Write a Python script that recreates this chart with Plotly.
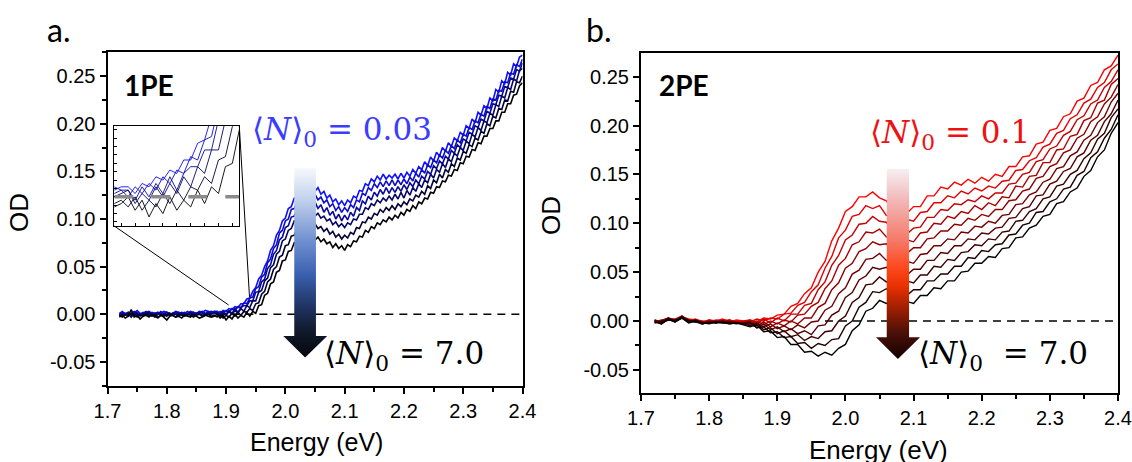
import plotly.graph_objects as go

W, H = 1132, 462

# ---------------- data ----------------
# photon-energy grids (eV)
E_A = [round(1.72 + 0.005 * i, 3) for i in range(137)]
E_B = [round(1.72 + 0.01 * i, 2) for i in range(69)]

# Panel a (1PE): OD x 1000, from <N>0 = 0.03 (blue) down to <N>0 = 7.0 (black)
A1 = [1,3,0,2,-1,2,4,1,0,2,3,1,-1,2,1,3,2,0,1,3,2,1,2,0,3,2,1,3,2,4,3,2,3,
      3,1,4,3,6,5,8,7,11,11,16,17,24,28,37,41,50,56,67,72,83,88,98,101,111,113,122,123,129,127,
      134,130,135,129,133,126,129,122,125,118,121,115,119,114,120,117,124,122,130,129,
      137,135,142,139,145,141,147,142,146,143,147,142,148,143,149,145,152,148,155,152,
      160,156,165,161,170,166,175,171,180,176,185,182,191,188,198,195,205,201,212,209,
      219,216,227,224,236,233,245,242,254,251,263,260,270,272]
A2 = [0,2,1,-1,1,3,1,0,2,1,-1,2,1,0,3,1,2,-1,1,2,0,2,1,3,1,2,0,2,3,1,2,3,2,
      0,3,1,4,2,6,4,8,7,12,11,17,18,27,29,39,42,54,58,69,73,85,88,98,100,110,111,119,118,124,
      121,127,122,126,120,123,117,120,113,116,109,113,107,112,108,115,112,120,118,127,
      125,133,130,137,133,139,134,140,135,141,135,141,136,142,137,144,140,148,144,152,
      148,157,154,162,159,167,164,172,169,177,174,183,180,189,187,196,194,203,201,210,
      208,218,216,226,225,235,234,244,243,253,252,262,260,268]
A3 = [-1,1,0,2,-2,0,2,-1,1,3,0,-1,1,2,-1,0,2,1,-1,1,2,0,-1,1,2,0,1,2,1,0,2,1,2,
      2,-1,3,0,4,1,6,2,7,9,9,14,14,23,24,34,37,48,52,63,67,78,81,91,93,102,103,111,109,115,
      112,119,113,118,111,115,107,112,104,108,100,105,98,104,99,107,103,112,109,119,
      116,124,120,128,124,131,126,133,127,133,128,134,129,136,131,138,134,141,137,145,
      142,150,147,156,153,161,158,166,163,172,169,178,175,184,182,191,189,198,196,205,
      203,213,211,221,220,230,229,239,238,248,247,257,255,264]
A4 = [-2,0,-1,1,-3,1,0,-2,0,-1,2,-1,-3,0,1,-2,0,-1,1,0,-2,1,0,-1,1,-1,0,1,-1,0,1,0,1,
      2,-2,1,-1,3,0,4,1,6,3,9,7,14,14,23,25,35,38,49,52,63,66,77,79,88,90,98,98,104,102,
      108,104,108,103,106,101,103,98,100,94,97,92,95,91,96,94,100,99,105,105,
      112,110,116,114,120,117,122,119,124,120,126,121,128,122,130,125,133,129,137,133,
      141,138,147,143,152,149,158,154,163,160,169,166,175,172,182,179,189,186,196,193,
      203,201,211,209,220,218,229,227,238,236,247,245,256,258]
A5 = [-1,-3,0,-2,1,-1,-3,0,-2,1,-1,-2,0,-3,-1,0,-2,1,-1,-3,0,-1,-2,0,-1,-3,-1,0,-2,-1,0,-2,-1,
      -3,0,-4,-1,-3,1,-2,2,-1,3,2,6,4,11,12,21,24,34,37,47,50,60,62,72,73,82,83,90,88,94,
      91,96,92,95,90,92,87,90,84,87,81,84,79,83,80,86,84,91,90,97,
      96,102,100,106,104,110,107,112,109,114,110,116,113,118,115,121,119,125,123,129,
      126,135,132,141,138,147,143,152,149,158,155,164,162,171,169,178,176,185,183,192,
      190,200,198,208,206,216,215,225,224,234,233,244,243,250]
A6 = [-3,-1,-4,-2,5,-3,-1,-5,-2,-1,-3,0,-2,-4,-1,-3,-6,-2,-1,-3,-2,-4,-1,-2,-3,0,-2,-4,-3,-1,-2,-3,-2,
      0,-4,-1,-6,-2,-5,0,-4,-1,-3,2,-2,3,1,9,10,20,22,32,34,44,46,56,57,66,67,75,74,80,78,
      83,79,83,78,81,76,79,74,76,70,74,69,72,67,73,71,77,76,82,81,
      88,86,92,90,96,94,99,97,102,99,104,101,107,104,110,108,114,111,118,116,
      122,121,128,127,134,133,140,139,146,145,152,151,159,158,166,165,173,172,180,179,
      187,187,195,195,203,203,212,212,221,221,230,231,240,243]
A_SERIES = [A1, A2, A3, A4, A5, A6]

# Panel b (2PE): OD x 1000, from <N>0 = 0.1 (red) down to <N>0 = 7.0 (black)
B1 = [0,-2,3,1,5,0,2,-1,1,0,2,-1,1,0, 1,-1,3,2,6,7,15,18,28,34, 50,61,82,95,112,117,127,127,132,126,
      123,113,116,110,117,117,128,128,137,135, 142,139,145,141,147,143,150,148,158,158,
      168,169,181,183,195,197,209,212,225,228, 241,244,257,261,272]
B2 = [-1,1,2,-1,4,2,1,0,-1,1,0,1,-1,0, -1,2,0,3,2,7,8,16,19,30, 37,54,66,85,93,107,109,118,115,118,
      108,106,101,104,102,111,112,121,121,128, 126,133,130,136,133,138,136,143,144,154,
      155,164,167,178,181,192,195,207,211,223, 227,239,244,257,263]
B3 = [1,-1,2,0,3,1,0,-2,1,-1,1,0,-1,-1, 1,-3,2,-2,3,0,7,7,16,18, 32,40,57,67,83,88,99,100,107,102,
      101,92,94,89,95,96,106,106,114,113, 120,119,124,122,128,125,131,131,140,141,
      150,152,163,165,176,179,190,194,206,210, 222,226,239,245,257]
B4 = [0,-2,1,2,5,0,1,-1,-1,0,-1,1,-2,-1, -3,0,-4,0,-3,1,-1,6,7,15, 19,33,41,57,64,78,81,91,90,94,
      86,85,80,83,81,90,91,100,99,107, 105,112,110,118,114,121,118,127,126,138,
      137,148,149,162,162,175,176,189,191,205, 208,223,226,242,248]
B5 = [-2,0,3,1,4,-1,1,-2,0,-1,0,-2,-1,-2, 0,-5,-1,-6,-2,-5,0,-3,3,3, 14,18,32,39,54,59,71,74,81,78,
      79,71,73,69,75,75,84,85,92,92, 99,98,105,103,109,107,114,114,123,124,
      133,135,146,148,158,161,172,175,187,191, 204,209,222,229,242]
B6 = [1,-2,2,0,5,1,-1,-1,-2,0,-1,-1,-2,-3, -4,-2,-6,-3,-8,-5,-9,-4,-7,-1, 0,11,15,28,34,48,52,63,64,69,
      62,63,58,61,59,68,69,77,77,84, 83,91,90,97,96,102,100,108,109,119,
      120,129,132,142,145,156,158,169,173,185, 190,203,209,224,233]
B7 = [-1,0,3,-1,4,0,0,-3,-1,-2,0,-2,-3,-2, -1,-7,-3,-9,-6,-11,-8,-13,-10,-14, -5,-4,6,10,24,29,42,46,55,53,
      55,49,51,47,53,53,62,62,70,69, 77,77,84,83,90,89,95,96,105,106,
      115,117,128,129,140,143,153,156,168,172, 185,190,204,212,226]
B8 = [0,-3,2,1,3,-1,1,-2,-2,-1,-2,-1,-2,-3, -5,-2,-9,-7,-13,-10,-16,-14,-20,-16, -18,-11,-10,0,5,19,24,37,38,45,
      40,42,37,41,39,47,47,56,55,63, 62,70,71,78,77,84,83,91,92,102,
      103,112,115,125,127,138,140,150,154,166, 172,186,192,208,217]
B9 = [-2,-1,1,0,4,0,-1,-3,-1,-2,-1,-3,-2,-3, -2,-7,-6,-12,-11,-17,-16,-23,-22,-28, -23,-25,-19,-18,-5,0,14,19,30,29,
      33,28,30,26,32,32,41,41,48,48, 56,56,65,64,72,71,78,79,88,89,
      98,100,111,112,122,125,135,137,149,153, 167,173,187,196,211]
B10 = [-1,-3,2,-1,3,-2,0,-2,-3,-1,-2,-3,-2,-4, -6,-4,-11,-10,-17,-16,-24,-24,-32,-31, -36,-32,-35,-28,-24,-10,-4,10,13,21,
       18,21,16,20,18,26,26,34,33,41, 41,50,51,59,59,66,65,74,75,85,
       86,95,98,107,109,120,122,132,136,148, 154,168,175,192,203]
B_SERIES = [B1, B2, B3, B4, B5, B6, B7, B8, B9, B10]

X_TICKS = [1.7, 1.8, 1.9, 2.0, 2.1, 2.2, 2.3, 2.4]
X_TICK_TEXT = ["1.7", "1.8", "1.9", "2.0", "2.1", "2.2", "2.3", "2.4"]
Y_TICKS = [-0.05, 0.0, 0.05, 0.10, 0.15, 0.20, 0.25]
Y_TICK_TEXT = ["-0.05", "0.00", "0.05", "0.10", "0.15", "0.20", "0.25"]

LABEL_A_TOP = "⟨<i>N</i>⟩<sub>0</sub> = 0.03"
LABEL_A_BOT = "⟨<i>N</i>⟩<sub>0</sub> = 7.0"
LABEL_B_TOP = "⟨<i>N</i>⟩<sub>0</sub> = 0.1"
LABEL_B_BOT = "⟨<i>N</i>⟩<sub>0</sub> \u00a0= 7.0"

# ---------------- styling ----------------
TICK_FONT = "Liberation Sans"
MATH_FONT = "DejaVu Serif"
LBL_FONT = "Lato"


def px(x):
    return x / W


def py(y):
    return 1 - y / H


def mix(c0, c1, t):
    return "rgb(%d,%d,%d)" % tuple(round(a + (b - a) * t) for a, b in zip(c0, c1))


fig = go.Figure()


def add_spectra(E, series, c_top, c_bot, xa, ya, width):
    n = len(series)
    for i, s in enumerate(series):
        fig.add_trace(go.Scatter(
            x=E, y=[v / 1000 for v in s], mode="lines",
            line=dict(color=mix(c_top, c_bot, i / (n - 1)), width=width),
            xaxis=xa, yaxis=ya, showlegend=False, hoverinfo="skip"))


add_spectra(E_A, A_SERIES, (15, 15, 255), (0, 0, 0), "x", "y", 1.6)
add_spectra(E_B, B_SERIES, (255, 0, 0), (0, 0, 0), "x2", "y2", 1.4)
add_spectra(E_A, A_SERIES, (15, 15, 255), (0, 0, 0), "x3", "y3", 0.9)


def add_arrow(xl, xr, hl, hr, xt, ytop, yhead, ytip, cs, xa, ya):
    fig.add_trace(go.Scatter(
        x=[xl, xr, xr, hr, xt, hl, xl, xl],
        y=[ytop, ytop, yhead, yhead, ytip, yhead, yhead, ytop],
        mode="none", fill="toself",
        fillgradient=dict(type="vertical", colorscale=cs),
        xaxis=xa, yaxis=ya, showlegend=False, hoverinfo="skip"))


ARROW_A_CS = [[0, "#06060e"], [0.13, "#101828"], [0.27, "#1f3462"], [0.44, "#3a60b0"],
              [0.62, "#7090d0"], [0.83, "#c0d0ec"], [1, "#f6f8fd"]]
ARROW_B_CS = [[0, "#140000"], [0.137, "#4a1008"], [0.277, "#a52000"], [0.38, "#e83000"],
              [0.487, "#ff4a20"], [0.627, "#f57a6a"], [0.837, "#f2b8b8"], [1, "#f6f0f3"]]

add_arrow(2.015, 2.0516, 1.9965, 2.0706, 2.0333, 0.1532, -0.0228, -0.0455, ARROW_A_CS, "x", "y")
add_arrow(2.0606, 2.0934, 2.0449, 2.1096, 2.077, 0.1556, -0.0166, -0.039, ARROW_B_CS, "x2", "y2")


def main_axes(domain, rng, is_x):
    d = dict(domain=domain, range=rng, showgrid=False, zeroline=False, showline=True,
             automargin=False,
             linecolor="black", linewidth=2, mirror=True, ticks="outside", ticklen=6,
             tickwidth=2, tickcolor="black",
             tickfont=dict(family=TICK_FONT, size=20, color="black"))
    if is_x:
        d.update(tickmode="array", tickvals=X_TICKS, ticktext=X_TICK_TEXT,
                 minor=dict(tickmode="linear", tick0=1.7, dtick=0.05, ticks="outside",
                            ticklen=4, tickwidth=1.5, tickcolor="black"))
    else:
        d.update(tickmode="array", tickvals=Y_TICKS, ticktext=Y_TICK_TEXT,
                 minor=dict(tickmode="linear", tick0=0, dtick=0.025, ticks="outside",
                            ticklen=4, tickwidth=1.5, tickcolor="black"))
    return d


xa = main_axes([px(107.5), px(522.5)], [1.7, 2.4], True)
xa["anchor"] = "y"
ya = main_axes([py(385.7), py(52.3)], [-0.075, 0.275], False)
ya["anchor"] = "x"
xb = main_axes([px(641), px(1118)], [1.7, 2.4], True)
xb["anchor"] = "y2"
yb = main_axes([py(393.3), py(52.7)], [-0.074, 0.2745], False)
yb["anchor"] = "x2"

inset_common = dict(showgrid=False, zeroline=False, showline=True, linecolor="black",
                    automargin=False,
                    linewidth=1, mirror=True, ticks="inside", ticklen=3, tickwidth=1,
                    tickcolor="black", showticklabels=False)
x3 = dict(inset_common, domain=[px(114.3), px(239.3)], range=[1.875, 1.965], anchor="y3",
          tickmode="linear", tick0=1.88, dtick=0.01)
y3 = dict(inset_common, domain=[py(226), py(125.5)], range=[-0.0087, 0.0213], anchor="x3",
          tickmode="linear", tick0=0, dtick=0.0025)

shapes = [
    dict(type="line", xref="x", yref="y", x0=1.72, x1=2.4, y0=0, y1=0, layer="below",
         line=dict(color="black", width=1.5, dash="8px,6px")),
    dict(type="line", xref="x2", yref="y2", x0=1.97, x1=2.4, y0=0, y1=0, layer="below",
         line=dict(color="black", width=1.5, dash="8px,6px")),
    dict(type="line", xref="x3", yref="y3", x0=1.875, x1=1.965, y0=0, y1=0, layer="above",
         line=dict(color="#8a8a8a", width=3.5, dash="19px,18px")),
    dict(type="line", xref="paper", yref="paper", x0=px(114.3), y0=py(226), x1=px(228.6), y1=py(305),
         line=dict(color="black", width=1)),
    dict(type="line", xref="paper", yref="paper", x0=px(239.3), y0=py(126), x1=px(249.5), y1=py(297),
         line=dict(color="black", width=1)),
]


def ann(text, x, y, size, family, color="black", angle=0):
    return dict(text=text, x=px(x), y=py(y), xref="paper", yref="paper", showarrow=False,
                xanchor="center", yanchor="middle", textangle=angle,
                font=dict(family=family, size=size, color=color))


annotations = [
    ann("a.", 58, 29, 32, LBL_FONT),
    ann("b.", 598, 29, 32, LBL_FONT),
    ann("<b>1PE</b>", 149, 85, 28, LBL_FONT),
    ann("<b>2PE</b>", 684, 85, 28, LBL_FONT),
    ann("OD", 19, 213, 26, TICK_FONT, angle=-90),
    ann("OD", 551, 216, 26, TICK_FONT, angle=-90),
    ann("Energy (eV)", 316, 441.5, 25, TICK_FONT),
    ann("Energy (eV)", 878, 450, 26, TICK_FONT),
    ann(LABEL_A_TOP, 342, 131, 31, MATH_FONT, color="#3c3cff"),
    ann(LABEL_A_BOT, 403.5, 355, 31, MATH_FONT),
    ann(LABEL_B_TOP, 950, 134, 31, MATH_FONT, color="#f01010"),
    ann(LABEL_B_BOT, 1003, 355, 31, MATH_FONT),
]

fig.update_layout(
    template="none",
    width=W, height=H, margin=dict(l=0, r=0, t=0, b=0, pad=0),
    paper_bgcolor="white", plot_bgcolor="white", showlegend=False,
    font=dict(family=TICK_FONT, size=20, color="black"),
    xaxis=xa, yaxis=ya, xaxis2=xb, yaxis2=yb, xaxis3=x3, yaxis3=y3,
    shapes=shapes, annotations=annotations,
)

fig.write_html("out.html", config={"displayModeBar": False},
               post_script="document.body.style.margin='0px';")
